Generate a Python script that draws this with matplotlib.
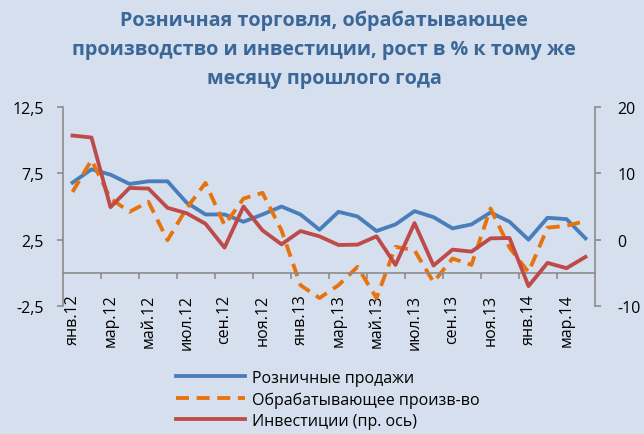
import matplotlib
matplotlib.use("Agg")
import matplotlib.pyplot as plt
import numpy as np

plt.rcParams['font.family'] = ['Open Sans', 'DejaVu Sans']

months = ['янв.12', 'фев.12', 'мар.12', 'апр.12', 'май.12', 'июн.12', 'июл.12', 'авг.12',
          'сен.12', 'окт.12', 'ноя.12', 'дек.12', 'янв.13', 'фев.13', 'мар.13', 'апр.13',
          'май.13', 'июн.13', 'июл.13', 'авг.13', 'сен.13', 'окт.13', 'ноя.13', 'дек.13',
          'янв.14', 'фев.14', 'мар.14', 'апр.14']

retail = [6.8, 7.8, 7.4, 6.7, 6.9, 6.9, 5.3, 4.4, 4.4, 3.85, 4.4, 5.0, 4.4, 3.25,
          4.6, 4.25, 3.15, 3.65, 4.65, 4.2, 3.35, 3.65, 4.55, 3.85, 2.5, 4.15, 4.05, 2.6]

manufacturing = [6.1, 8.5, 5.6, 4.6, 5.35, 2.46, 4.85, 6.78, 3.6, 5.6, 6.03, 3.2, -0.93, -1.9,
                 -0.93, 0.45, -1.9, 1.96, 1.7, -0.7, 1.08, 0.6, 4.85, 1.9, 0.05, 3.4, 3.55, 3.9]

investment = [15.7, 15.4, 4.9, 7.8, 7.7, 4.8, 4.0, 2.4, -1.2, 5.0, 1.4, -0.7, 1.3, 0.5,
              -0.8, -0.75, 0.5, -3.8, 2.5, -3.9, -1.5, -1.8, 0.2, 0.25, -7.0, -3.5, -4.3, -2.6]

left_ticks = [-2.5, 2.5, 7.5, 12.5]
left_tick_labels = ['-2,5', '2,5', '7,5', '12,5']
right_ticks = [-10, 0, 10, 20]
right_tick_labels = ['-10', '0', '10', '20']

labels = ['Розничные продажи', 'Обрабатывающее произв-во', 'Инвестиции (пр. ось)']
title = ('Розничная торговля, обрабатывающее\n'
         'производство и инвестиции, рост в % к тому же\n'
         'месяцу прошлого года')

bg = '#D5DFEE'
axis_gray = '#8C8C8C'
c_blue = '#4A7EBB'
c_orange = '#E8720C'
c_red = '#BE4B48'

fig = plt.figure(figsize=(6.44, 4.35), dpi=100, facecolor=bg)
ax = fig.add_axes([63/644, 1-307/435, (595-63)/644, (307-108)/435])
ax.set_facecolor(bg)

x = np.arange(len(months))
lw = 2.75
l1, = ax.plot(x, retail, color=c_blue, lw=lw, solid_joinstyle='round', label=labels[0])
l2, = ax.plot(x, manufacturing, color=c_orange, lw=lw, dashes=(3.4, 2.0),
              dash_capstyle='butt', label=labels[1])

ax.set_xlim(-0.5, len(months) - 0.5)
ax.set_ylim(-2.5, 12.5)
ax.set_yticks(left_ticks)
ax.set_yticklabels(left_tick_labels)

ax2 = ax.twinx()
l3, = ax2.plot(x, investment, color=c_red, lw=lw, solid_joinstyle='round', label=labels[2])
ax2.set_ylim(-10, 20)
ax2.set_yticks(right_ticks)
ax2.set_yticklabels(right_tick_labels)

for a in (ax, ax2):
    for s in a.spines.values():
        s.set_color(axis_gray)
        s.set_linewidth(1.2)
    a.spines['top'].set_visible(False)

ax.spines['bottom'].set_position(('data', 0))
ax2.spines['bottom'].set_visible(False)
ax.spines['right'].set_visible(False)
ax2.spines['left'].set_visible(False)

ax.set_xticks(x[::2])
ax.set_xticklabels(months[::2], rotation=90, va='top', ha='center')
ax.set_xticks(np.arange(1.5, len(months) - 1, 2), minor=True)
ax.tick_params(axis='x', which='major', length=0, pad=15, labelsize=11.5)
ax.tick_params(axis='x', which='minor', length=4.5, width=1.2, color=axis_gray, direction='out')
ax.tick_params(axis='y', length=4, width=1.2, color=axis_gray, labelsize=11.5, pad=10)
ax2.tick_params(axis='y', length=4, width=1.2, color=axis_gray, labelsize=11.5, pad=12)

fig.text(324/644, 1-11/435, title, ha='center', va='top', fontsize=14.2, fontweight='bold',
         color='#3A6797', linespacing=1.6)

leg = fig.legend(handles=[l1, l2, l3], loc='upper left', bbox_to_anchor=(176/644, 1-371/435),
                 frameon=False, fontsize=11.5, handlelength=4.3, handletextpad=0.45,
                 labelspacing=0.33, borderaxespad=0, borderpad=0)

fig.savefig('out.png', dpi=100, facecolor=bg)
